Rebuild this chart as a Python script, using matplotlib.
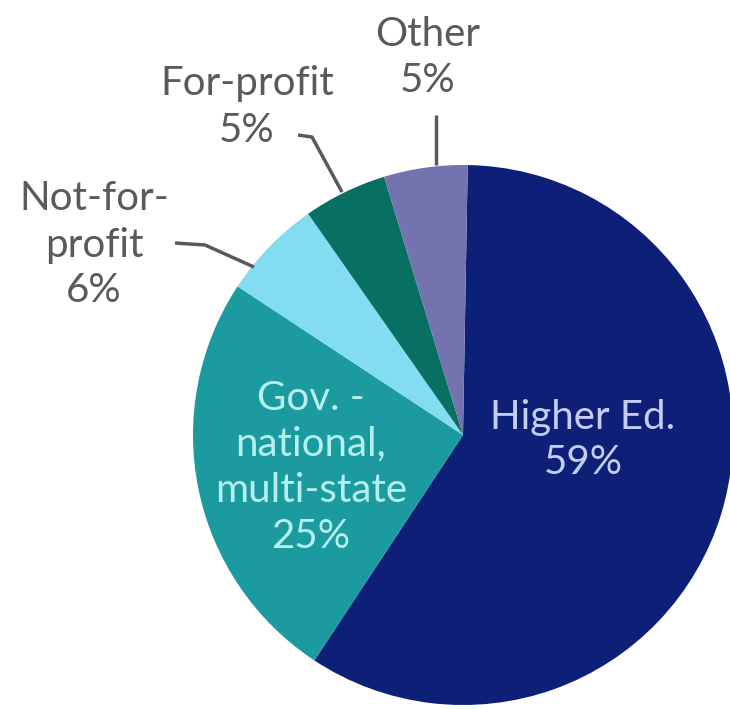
import matplotlib.pyplot as plt

# share of members by sector
sectors = ["Higher Ed.", "Gov. -\nnational,\nmulti-state", "Not-for-\nprofit", "For-profit", "Other"]
shares = [59, 25, 6, 5, 5]
colors = ["#0e1f78", "#1b9aa0", "#84dcf2", "#077063", "#7572b0"]

W, H = 730, 709
cx, cy, r = 463, 435, 270

fig = plt.figure(figsize=(W / 100, H / 100), dpi=100)
ax = fig.add_axes([0, 0, 1, 1])

ax.pie(shares, colors=colors, startangle=89, counterclock=False,
       radius=1, wedgeprops=dict(linewidth=0))

# pie() resets the limits, so set them afterwards
ax.set_aspect("auto")
ax.set_xlim((0 - cx) / r, (W - cx) / r)
ax.set_ylim((cy - H) / r, cy / r)
ax.axis("off")


def px(x, y):
    # pixel position -> data units
    return (x - cx) / r, (cy - y) / r


font = dict(family=["Lato", "DejaVu Sans"], fontsize=29,
            ha="center", va="center", linespacing=1.3)

# labels inside the pie
ax.text(*px(583, 440), f"{sectors[0]}\n{shares[0]}%", color="#c5cdf2", **font)
ax.text(*px(311, 467), f"{sectors[1]}\n{shares[1]}%", color="#b5f0ee", **font)

# labels outside with leader lines
grey = "#5a5a5a"
ax.text(*px(94, 245), f"{sectors[2]}\n{shares[2]}%", color=grey, **font)
ax.text(*px(247, 107), f"{sectors[3]}\n{shares[3]}%", color=grey, **font)
ax.text(*px(428, 58), f"{sectors[4]}\n{shares[4]}%", color=grey, **font)

leaders = [
    [(175, 243), (205, 245), (254, 267)],
    [(298, 135), (312, 137), (342, 192)],
    [(436, 115), (436, 165)],
]
for pts in leaders:
    xs, ys = zip(*[px(x, y) for x, y in pts])
    ax.plot(xs, ys, color=grey, linewidth=2.5, solid_capstyle="butt")

fig.savefig("out.png", dpi=100)
